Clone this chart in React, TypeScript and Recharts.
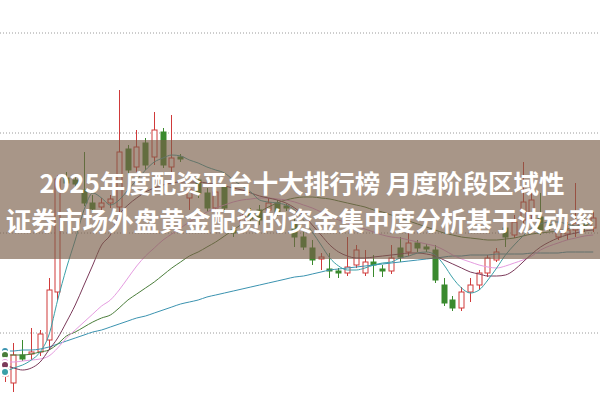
import { ComposedChart, Bar, Line, XAxis, YAxis, CartesianGrid } from "recharts";

// daily candles, oldest first
const opens = [5.7, 5.0, 7.8, 7.9, 8.1, 9.3, 14.1, 25.5, 25.3, 24.3, 23.0, 22.6, 23.0, 22.6, 28.4, 26.6, 29.0, 27.6, 30.1, 26.6, 27.6, 23.5, 25.3, 24.0, 22.5, 24.6, 20.3, 21.1, 21.9, 22.3, 22.3, 23.0, 22.7, 21.0, 19.6, 18.5, 17.4, 16.4, 16.2, 16.0, 16.8, 16.0, 17.1, 16.4, 16.2, 18.5, 18.1, 19.0, 18.6, 18.3, 14.8, 13.3, 12.5, 14.1, 14.8, 16.0, 17.3, 20.5, 19.8, 21.3, 21.8, 21.6, 20.8, 19.6, 19.9, 20.3, 21.1, 20.5];
const closes = [6.5, 7.8, 7.4, 8.1, 9.9, 14.3, 25.4, 25.0, 24.9, 23.0, 22.4, 23.0, 23.4, 28.1, 26.3, 28.6, 26.8, 30.3, 26.8, 27.5, 27.4, 24.3, 24.0, 22.5, 24.1, 22.5, 20.0, 21.7, 21.4, 21.3, 23.0, 22.1, 22.5, 19.6, 18.6, 17.3, 17.6, 16.2, 16.0, 16.6, 18.3, 17.1, 16.8, 16.2, 17.5, 17.6, 19.0, 18.5, 18.4, 15.3, 13.0, 12.5, 14.1, 14.8, 16.0, 17.5, 18.1, 19.6, 21.1, 23.1, 23.3, 20.3, 20.5, 20.3, 20.3, 21.0, 20.6, 21.5];
const highs = [7.1, 9.0, 9.3, 10.5, 10.3, 15.5, 25.8, 26.1, 25.7, 28.1, 23.8, 23.5, 23.8, 34.3, 28.8, 30.3, 29.5, 32.1, 30.5, 31.8, 27.9, 24.8, 25.8, 24.5, 24.6, 24.8, 20.7, 22.1, 22.5, 22.8, 23.5, 23.3, 22.9, 21.5, 20.1, 19.3, 18.0, 18.0, 16.5, 19.6, 18.8, 18.3, 17.8, 16.8, 18.8, 19.6, 20.0, 19.3, 18.9, 18.8, 15.5, 13.7, 14.6, 15.5, 16.3, 17.8, 18.5, 21.1, 21.8, 27.1, 24.8, 24.0, 21.1, 20.8, 21.1, 25.0, 21.5, 22.1];
const lows = [5.1, 4.1, 7.2, 7.3, 7.7, 8.3, 13.3, 24.3, 24.5, 22.7, 22.1, 22.1, 22.5, 22.1, 25.8, 26.1, 26.3, 26.8, 26.5, 25.5, 27.1, 22.3, 23.5, 22.1, 21.6, 22.1, 19.6, 20.7, 20.9, 20.8, 22.0, 21.7, 22.2, 18.6, 18.3, 16.8, 16.3, 15.5, 15.5, 15.7, 16.5, 15.7, 15.6, 15.6, 15.9, 17.1, 17.7, 18.1, 18.1, 15.0, 12.7, 12.2, 12.2, 13.1, 14.3, 15.6, 17.1, 18.6, 19.5, 20.8, 20.8, 19.8, 20.2, 19.3, 19.3, 19.6, 20.1, 20.1];

// moving averages
const ma5 = [6.1, 6.5, 6.8, 7.3, 8.1, 9.8, 13.3, 16.5, 19.3, 22.3, 24.0, 23.5, 22.8, 23.3, 24.3, 25.3, 26.3, 27.1, 27.5, 27.8, 27.7, 27.3, 27.0, 26.6, 26.3, 26.0, 25.3, 24.7, 24.1, 23.3, 23.1, 23.0, 22.8, 22.3, 21.3, 20.1, 18.8, 17.5, 16.7, 16.3, 16.3, 16.5, 16.8, 17.0, 17.1, 17.5, 17.7, 18.0, 18.1, 17.8, 16.8, 15.5, 14.5, 14.0, 14.3, 15.3, 16.5, 17.8, 18.8, 19.7, 20.5, 20.9, 21.1, 21.1, 20.9, 20.7, 20.8, 21.1];
const ma10 = [6.8, 6.5, 6.3, 6.5, 7.1, 8.3, 9.5, 11.1, 12.8, 14.8, 16.8, 18.8, 19.8, 21.8, 22.8, 23.5, 24.1, 24.5, 24.8, 25.0, 25.1, 25.1, 25.1, 25.0, 24.9, 24.7, 24.5, 24.3, 24.0, 23.7, 23.5, 23.3, 23.0, 22.5, 21.8, 20.8, 19.8, 18.8, 18.1, 17.7, 17.5, 17.5, 17.6, 17.7, 17.8, 17.9, 18.0, 18.0, 17.9, 17.7, 17.3, 16.9, 16.5, 16.1, 15.9, 15.7, 15.7, 15.8, 16.3, 17.1, 17.9, 18.6, 19.1, 19.5, 19.8, 20.0, 20.2, 20.3];
const ma20 = [7.1, 7.1, 7.2, 7.3, 7.4, 7.7, 8.5, 9.5, 10.3, 11.1, 11.9, 12.7, 13.3, 14.3, 15.5, 16.7, 17.7, 18.5, 19.3, 19.9, 20.5, 21.1, 21.6, 22.1, 22.5, 22.8, 23.1, 23.3, 23.4, 23.5, 23.5, 23.4, 23.3, 23.1, 22.8, 22.5, 22.1, 21.7, 21.3, 21.0, 20.7, 20.4, 20.1, 19.8, 19.6, 19.5, 19.3, 19.1, 18.9, 18.7, 18.3, 17.8, 17.4, 17.1, 16.8, 16.6, 16.5, 16.7, 17.0, 17.3, 17.7, 18.3, 18.7, 19.0, 19.3, 19.5, 19.7, 19.8];
const ma30 = [7.8, 7.8, 7.8, 7.9, 8.1, 8.3, 8.9, 9.7, 10.1, 10.6, 11.1, 11.5, 11.8, 12.5, 13.3, 13.9, 14.5, 15.1, 15.8, 16.5, 17.1, 17.7, 18.1, 18.6, 19.1, 19.7, 20.3, 20.9, 21.5, 22.1, 22.6, 23.0, 23.3, 23.5, 23.6, 23.6, 23.5, 23.4, 23.2, 23.0, 22.8, 22.6, 22.3, 22.1, 21.8, 21.5, 21.2, 20.9, 20.6, 20.3, 20.0, 19.8, 19.6, 19.5, 19.4, 19.3, 19.3, 19.4, 19.5, 19.7, 19.9, 20.0, 20.1, 20.2, 20.4, 20.6, 20.8, 21.0];
const ma60 = [8.2, 8.2, 8.3, 8.3, 8.4, 8.6, 8.9, 9.2, 9.5, 9.8, 10.1, 10.3, 10.6, 10.9, 11.2, 11.5, 11.7, 12.0, 12.3, 12.6, 12.9, 13.1, 13.3, 13.6, 13.8, 14.0, 14.2, 14.4, 14.6, 14.8, 15.0, 15.2, 15.4, 15.6, 15.7, 15.9, 16.1, 16.3, 16.4, 16.5, 16.6, 16.7, 16.8, 16.9, 17.0, 17.1, 17.2, 17.3, 17.4, 17.5, 17.6, 17.7, 17.7, 17.8, 17.8, 17.8, 17.9, 17.9, 17.9, 17.9, 18.0, 18.0, 18.0, 18.0, 18.1, 18.1, 18.1, 18.1];

const gridLevels = [10, 20, 30, 40];

const titleLine1 = "2025年度配资平台十大排行榜 月度阶段区域性";
const titleLine2 = "证券市场外盘黄金配资的资金集中度分析基于波动率";

const RED = "#d03a3a";
const GREEN = "#3a8a2e";

const rows = opens.map((o, i) => ({
  idx: i,
  open: o,
  close: closes[i],
  high: highs[i],
  low: lows[i],
  ma5: ma5[i],
  ma10: ma10[i],
  ma20: ma20[i],
  ma30: ma30[i],
  ma60: ma60[i],
}));

function Candle(props: any) {
  const { x, y, width, height, payload } = props;
  const { open, close, high, low } = payload;
  const top = Math.min(y, y + height);
  const h = Math.abs(height);
  const span = high - low || 1;
  const py = (v: number) => top + ((high - v) / span) * h;
  const up = close >= open;
  const color = up ? RED : GREEN;
  const cx = Math.round(x + width / 2) + 0.5;
  const bTop = py(Math.max(open, close));
  const bBot = py(Math.min(open, close));
  return (
    <g>
      <line x1={cx} x2={cx} y1={top} y2={top + h} stroke={color} strokeWidth={1} />
      <rect
        x={cx - 2.5}
        y={bTop}
        width={5}
        height={Math.max(bBot - bTop, 1)}
        fill={up ? "#fff" : color}
        stroke={color}
        strokeWidth={1}
      />
    </g>
  );
}

const titleStyle = {
  position: "absolute" as const,
  lineHeight: "39px",
  color: "#fff",
  fontFamily: "'Noto Sans CJK SC', sans-serif",
  fontWeight: 700,
  whiteSpace: "nowrap" as const,
};

export default function App() {
  return (
    <div style={{ position: "fixed", left: 0, top: 0, width: 600, height: 400, background: "#fff", overflow: "hidden" }}>
      <ComposedChart width={600} height={400} data={rows} margin={{ top: 0, right: 0, bottom: 0, left: 0 }}>
        <CartesianGrid vertical={false} horizontalValues={gridLevels} stroke="#9a9a9a" strokeDasharray="1 2" />
        <XAxis dataKey="idx" type="number" domain={[-0.57, 67.77]} hide allowDataOverflow />
        <YAxis type="number" domain={[3.3, 43.3]} ticks={gridLevels} hide allowDataOverflow />
        <Bar dataKey={(d: any) => [d.low, d.high]} barSize={6} shape={Candle} isAnimationActive={false} />
        <Line type="monotone" dataKey="ma60" stroke="#3b93b0" strokeWidth={1} dot={false} isAnimationActive={false} />
        <Line type="monotone" dataKey="ma30" stroke="#4a7d3a" strokeWidth={1} dot={false} isAnimationActive={false} />
        <Line type="monotone" dataKey="ma20" stroke="#e59be0" strokeWidth={1} dot={false} isAnimationActive={false} />
        <Line type="monotone" dataKey="ma10" stroke="#7b3a5a" strokeWidth={1} dot={false} isAnimationActive={false} />
        <Line type="monotone" dataKey="ma5" stroke="#3aa0a8" strokeWidth={1} dot={false} isAnimationActive={false} />
      </ComposedChart>
      <div style={{ position: "absolute", left: 0, top: 140, width: 600, height: 119, background: "rgba(122,94,72,0.65)" }} />
      <div style={{ ...titleStyle, left: 0, top: 162, width: 604, textAlign: "center", fontSize: 25.5 }}>
        {titleLine1}
      </div>
      <div style={{ ...titleStyle, left: 0, top: 200, width: 600, textAlign: "center", fontSize: 25.6 }}>
        {titleLine2}
      </div>
    </div>
  );
}
